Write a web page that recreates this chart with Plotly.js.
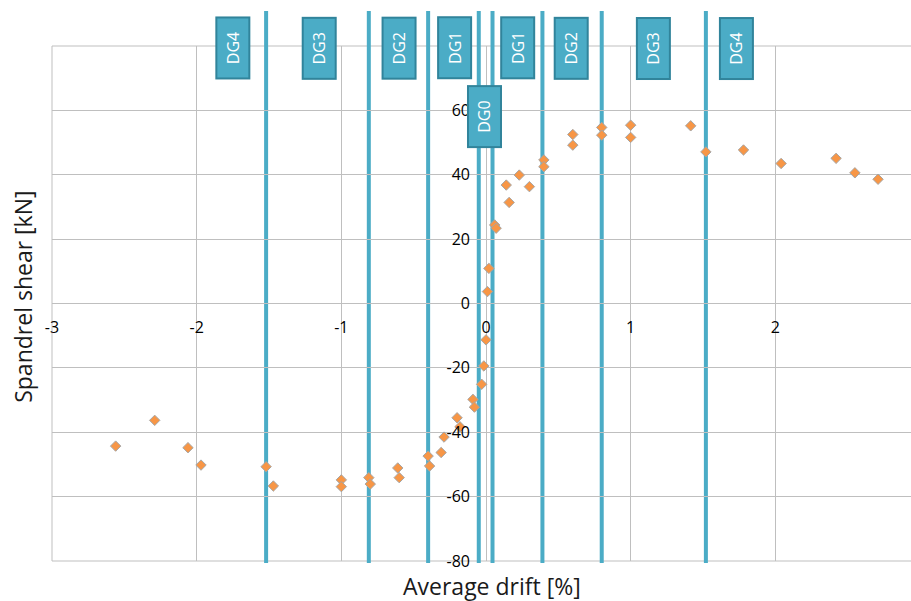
<!DOCTYPE html>
<html>
<head>
<meta charset="utf-8">
<script src="https://cdn.plot.ly/plotly-3.0.1.min.js"></script>
<style>
  html, body { margin: 0; padding: 0; background: #fff; overflow: hidden; }
  #chart { width: 930px; height: 601px; }
</style>
</head>
<body>
<div id="chart"></div>
<script>
// Measured spandrel response: average drift [%] vs spandrel shear [kN]
const driftPct = [
  -2.56, -2.29, -2.06, -1.97, -1.52, -1.47, -1.00, -1.00, -0.81, -0.80,
  -0.61, -0.60, -0.40, -0.39, -0.31, -0.29, -0.20, -0.18, -0.09, -0.08,
  -0.03, -0.015, 0.00, 0.01, 0.02, 0.06, 0.07, 0.14, 0.16, 0.23,
  0.30, 0.40, 0.40, 0.60, 0.60, 0.80, 0.80, 1.00, 1.00, 1.415,
  1.52, 1.78, 2.04, 2.42, 2.55, 2.71
];
const shearKN = [
  -44.3, -36.3, -44.8, -50.2, -50.7, -56.7, -54.8, -56.9, -54.1, -56.1,
  -51.1, -54.1, -47.4, -50.5, -46.3, -41.5, -35.5, -38.3, -29.8, -32.2,
  -25.1, -19.4, -11.3, 3.7, 10.9, 24.4, 23.4, 36.8, 31.4, 39.9,
  36.3, 44.6, 42.5, 52.5, 49.2, 54.7, 52.3, 55.4, 51.6, 55.2,
  47.1, 47.7, 43.5, 45.1, 40.6, 38.6
];

// Damage-grade drift limits [%]
const dgLimits = [-1.52, -0.81, -0.40, -0.05, 0.045, 0.39, 0.80, 1.52];

// Damage-grade tags
const dgTags = ['DG4', 'DG3', 'DG2', 'DG1', 'DG0', 'DG1', 'DG2', 'DG3', 'DG4'];

const xTickVals = [-3, -2, -1, 0, 1, 2];
const yTickVals = [-80, -60, -40, -20, 0, 20, 40, 60, 80];

// tag placement (drift position, paper height)
const tagPlace = [
  [-1.753, 0.996], [-1.156, 0.996], [-0.604, 0.996], [-0.220, 0.996],
  [-0.010, 0.863],
  [0.216, 0.996], [0.586, 0.996], [1.154, 0.996], [1.728, 0.996]
];

const TEAL = '#4bacc6';
const TEAL_DARK = '#31849b';
const GRID = '#bfbfbf';

const trace = {
  type: 'scatter',
  mode: 'markers',
  x: driftPct,
  y: shearKN,
  marker: {
    symbol: 'diamond',
    size: 8,
    color: '#f79646',
    line: { color: '#a6a6a6', width: 1 }
  },
  hoverinfo: 'x+y',
  showlegend: false
};

// plot-area frame (edge gridlines)
const frame = {
  type: 'rect',
  xref: 'paper', yref: 'paper',
  x0: 0, x1: 1, y0: 0, y1: 1,
  line: { color: GRID, width: 1 },
  fillcolor: 'rgba(0,0,0,0)',
  layer: 'below'
};

const limitLines = dgLimits.map(v => ({
  type: 'line',
  xref: 'x', yref: 'paper',
  x0: v, x1: v, y0: -0.004, y1: 1.068,
  line: { color: TEAL, width: 4 },
  layer: 'between'
}));

const tagNotes = dgTags.map((t, i) => ({
  text: t,
  xref: 'x', yref: 'paper',
  x: tagPlace[i][0], y: tagPlace[i][1],
  xanchor: 'center', yanchor: 'middle',
  showarrow: false,
  textangle: -90,
  width: 57, height: 29,
  bgcolor: TEAL,
  bordercolor: TEAL_DARK,
  borderwidth: 2,
  borderpad: 1,
  font: { family: 'Open Sans, sans-serif', size: 16, color: '#ffffff' }
}));

const titleNotes = [
  {
    text: 'Average drift [%]',
    xref: 'paper', yref: 'paper',
    x: 0.507, y: -0.0495,
    xanchor: 'center', yanchor: 'middle',
    showarrow: false,
    font: { family: 'Open Sans, sans-serif', size: 23, color: '#1a1a1a' }
  },
  {
    text: 'Spandrel shear [kN]',
    xref: 'paper', yref: 'paper',
    x: -0.0334, y: 0.513,
    xanchor: 'center', yanchor: 'middle',
    textangle: -90,
    showarrow: false,
    font: { family: 'Open Sans, sans-serif', size: 23, color: '#1a1a1a' }
  }
];

const layout = {
  width: 930,
  height: 601,
  margin: { l: 52, r: 10, t: 46, b: 40 },
  paper_bgcolor: '#ffffff',
  plot_bgcolor: '#ffffff',
  font: { family: 'Open Sans, sans-serif', size: 16, color: '#000000' },
  xaxis: {
    range: [-3, 3],
    tickvals: xTickVals,
    ticktext: xTickVals.map(String),
    showgrid: true, gridcolor: GRID, gridwidth: 1,
    zeroline: true, zerolinecolor: GRID, zerolinewidth: 1,
    showline: false,
    ticks: '',
    anchor: 'free', position: 0.5,
    ticklabelstandoff: 12,
    tickfont: { size: 16, color: '#000000' },
    fixedrange: true
  },
  yaxis: {
    range: [-80, 80],
    tickvals: yTickVals,
    ticktext: yTickVals.map(String),
    showgrid: true, gridcolor: GRID, gridwidth: 1,
    zeroline: true, zerolinecolor: GRID, zerolinewidth: 1,
    showline: false,
    ticks: '',
    anchor: 'free', position: 0.5,
    ticklabelstandoff: 16,
    tickfont: { size: 16, color: '#000000' },
    fixedrange: true
  },
  shapes: [frame].concat(limitLines),
  annotations: tagNotes.concat(titleNotes),
  showlegend: false
};

Plotly.newPlot('chart', [trace], layout, { displayModeBar: false, staticPlot: true });
</script>
</body>
</html>
